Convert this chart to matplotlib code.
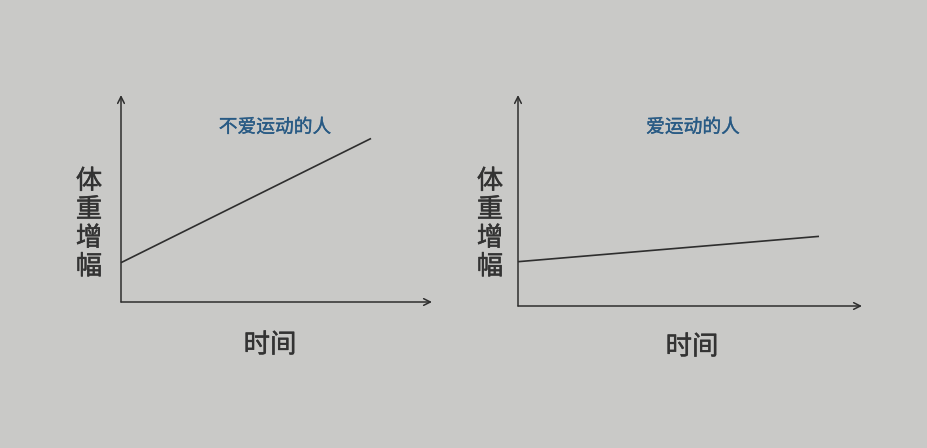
import matplotlib
matplotlib.use('Agg')
import matplotlib.pyplot as plt
import matplotlib.patheffects as pe

plt.rcParams['font.family'] = ['Noto Sans CJK SC', 'DejaVu Sans']

# ------------------ Data ------------------
time_lazy = [0, 8.04]
gain_lazy = [1.9, 7.9]
time_active = [0, 8.75]
gain_active = [2.1, 3.3]

titles = ['不爱运动的人', '爱运动的人']
ylabel = '体重增幅'
xlabel = '时间'

W, H = 928, 448
bg = '#c9c9c7'
ink = '#2e2e2e'
text_ink = '#333333'
blue = '#285a84'

fig = plt.figure(figsize=(W / 100, H / 100), dpi=100)
fig.patch.set_facecolor(bg)


def px_axes(x0, y0, x1, y1):
    # origin (x0, y0) and arrow tips (x1, y1) in image pixels
    return fig.add_axes([x0 / W, 1 - y0 / H, (x1 - x0) / W, (y0 - y1) / H])


def heavy(color, w):
    # thicken the glyphs a little, the scan looks semi-bold
    return [pe.withStroke(linewidth=w, foreground=color)]


panels = [
    dict(box=(121, 302, 432, 95), t=time_lazy, g=gain_lazy,
         title=titles[0], title_xy=(275, 127), ylab_x=89, xlab_xy=(270, 345)),
    dict(box=(518, 306, 862, 95), t=time_active, g=gain_active,
         title=titles[1], title_xy=(693, 127), ylab_x=490, xlab_xy=(692, 347)),
]

for p in panels:
    ax = px_axes(*p['box'])
    ax.set_xlim(0, 10)
    ax.set_ylim(0, 10)
    ax.axis('off')
    ax.patch.set_alpha(0)

    # axes with arrows
    arrow = dict(arrowstyle='->', lw=1.1, color=ink, shrinkA=0, shrinkB=0,
                 mutation_scale=12)
    ax.annotate('', xy=(1, 0), xytext=(0, 0), xycoords='axes fraction',
                arrowprops=arrow)
    ax.annotate('', xy=(0, 1), xytext=(0, 0), xycoords='axes fraction',
                arrowprops=arrow)

    ax.plot(p['t'], p['g'], color=ink, lw=1.2, solid_capstyle='butt',
            clip_on=False)

    tx, ty = p['title_xy']
    fig.text(tx / W, 1 - ty / H, p['title'], color=blue, fontsize=13.5,
             ha='center', va='center', path_effects=heavy(blue, 0.25))
    fig.text(p['ylab_x'] / W, 1 - 224 / H, '\n'.join(ylabel), color=text_ink,
             fontsize=19, ha='center', va='center', linespacing=1.07,
             path_effects=heavy(text_ink, 0.35))
    xx, xy = p['xlab_xy']
    fig.text(xx / W, 1 - xy / H, xlabel, color=text_ink, fontsize=19,
             ha='center', va='center', path_effects=heavy(text_ink, 0.35))

fig.savefig('out.png', dpi=100, facecolor=bg)
